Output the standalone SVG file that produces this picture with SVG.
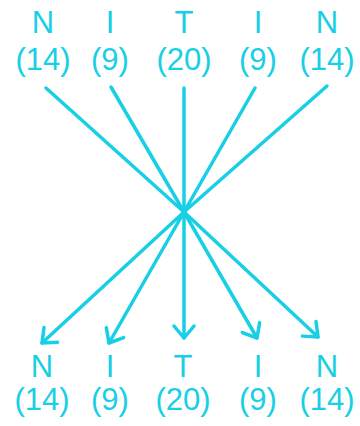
<svg xmlns="http://www.w3.org/2000/svg" width="360" height="426" viewBox="0 0 360 426">
<style>
text{font-family:"Liberation Sans",Arial,sans-serif;font-size:31px;fill:#18cfe6;text-anchor:middle}
.c line{stroke:#18cfe6;stroke-width:3.5;stroke-linecap:round}
</style>
<defs>
<marker id="ah" markerWidth="24" markerHeight="24" refX="15" refY="12" orient="auto" markerUnits="userSpaceOnUse">
<polyline points="3,2 15,12 3,22" fill="none" stroke="#18cfe6" stroke-width="3.5" stroke-linecap="round" stroke-linejoin="round"/>
</marker>
</defs>
<rect width="360" height="426" fill="#fff"/>
<g id="top-n1"><text x="43" y="33">N</text><text x="43" y="70">(14)</text></g>
<g id="top-i1"><text x="110" y="33">I</text><text x="110" y="70">(9)</text></g>
<g id="top-t"><text x="184" y="33">T</text><text x="184" y="70">(20)</text></g>
<g id="top-i2"><text x="258" y="33">I</text><text x="258" y="70">(9)</text></g>
<g id="top-n2"><text x="327" y="33">N</text><text x="327" y="70">(14)</text></g>
<g id="bot-n1"><text x="42" y="377">N</text><text x="42" y="410">(14)</text></g>
<g id="bot-i1"><text x="110" y="377">I</text><text x="110" y="410">(9)</text></g>
<g id="bot-t"><text x="183" y="377">T</text><text x="183" y="410">(20)</text></g>
<g id="bot-i2"><text x="258" y="377">I</text><text x="258" y="410">(9)</text></g>
<g id="bot-n2"><text x="327" y="377">N</text><text x="327" y="410">(14)</text></g>
<g class="c" id="connectors">
<line x1="46" y1="88" x2="184" y2="212"/>
<line x1="111" y1="87" x2="184" y2="212"/>
<line x1="184" y1="88" x2="184" y2="212"/>
<line x1="255" y1="88" x2="184" y2="212"/>
<line x1="327" y1="86" x2="184" y2="212"/>
<line x1="184" y1="212" x2="42" y2="343" marker-end="url(#ah)"/>
<line x1="184" y1="212" x2="109" y2="343" marker-end="url(#ah)"/>
<line x1="184" y1="212" x2="184" y2="338" marker-end="url(#ah)"/>
<line x1="184" y1="212" x2="257" y2="338" marker-end="url(#ah)"/>
<line x1="184" y1="212" x2="318" y2="337" marker-end="url(#ah)"/>
</g>
</svg>
